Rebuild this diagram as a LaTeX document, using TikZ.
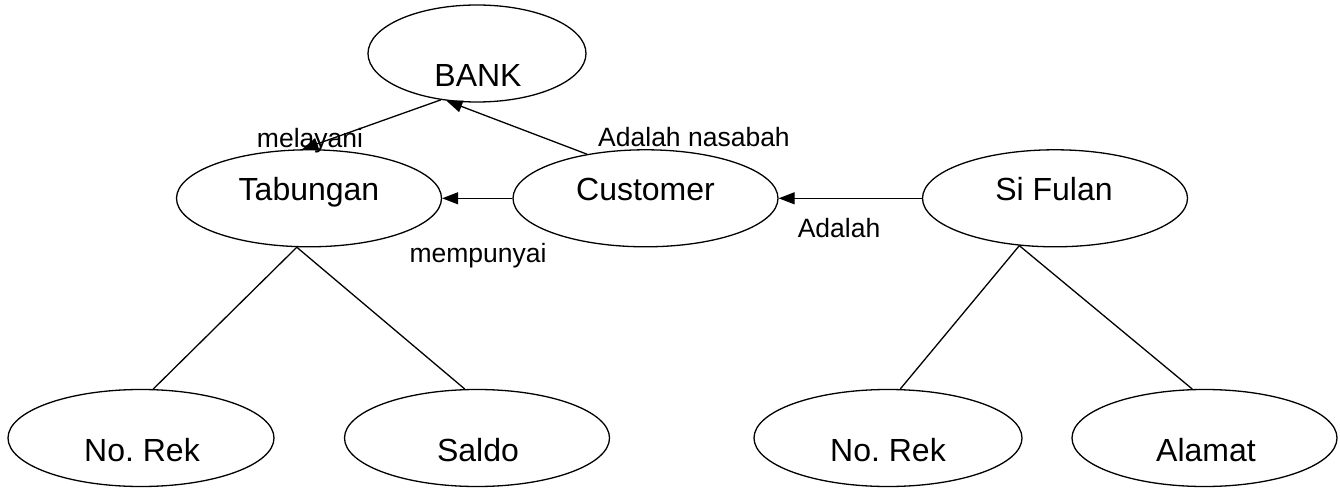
\documentclass[tikz,border=0pt]{standalone}
\usepackage{fontspec}
\setmainfont{Liberation Sans}
\usetikzlibrary{shapes.geometric,arrows.meta}
\frenchspacing
\begin{document}
\begin{tikzpicture}[x=1bp,y=-1bp,
  ent/.style={draw,ellipse,line width=1.3bp,inner sep=0pt,minimum width=265bp,minimum height=97bp},
  big/.style={anchor=base,inner sep=0pt,font=\fontsize{32bp}{38bp}\selectfont},
  small/.style={anchor=base,inner sep=0pt,font=\fontsize{26.5bp}{32bp}\selectfont},
  conn/.style={line width=1.3bp},
  arr/.style={conn,-{Triangle[length=16bp,width=12bp]}}]
\useasboundingbox (0,0) rectangle (1340,489);
% entities
\node[ent,minimum width=218bp] (bank) at (477,53.5) {};
\node[ent] (tab) at (309,198.3) {};
\node[ent] (cust) at (645.5,198.3) {};
\node[ent] (sf) at (1055,198.3) {};
\node[ent,minimum width=266bp] (nr1) at (141,438) {};
\node[ent] (saldo) at (477,438) {};
\node[ent,minimum width=268bp] (nr2) at (888,438) {};
\node[ent] (alamat) at (1204.5,438) {};
% entity texts
\node[big] (bankt) at (478,87) {BANK};
\node[big] (tabt) at (309,201) {Tabungan};
\node[big] (custt) at (645.5,201) {Customer};
\node[big] (sft) at (1054,201) {Si Fulan};
\node[big] (nr1t) at (142,461) {No.\ Rek};
\node[big] (saldot) at (478,461) {Saldo};
\node[big] (nr2t) at (888,461) {No.\ Rek};
\node[big] (alamatt) at (1206,461) {Alamat};
% connectors
\draw[arr] (cust.west) -- (tab.east);
\draw[arr] (sf.west) -- (cust.east);
\draw[arr] (cust.143) -- (bank.237);
\draw[arr] (bank.232) -- (tab.98);
\draw[conn] (tab.256) -- (nr1.76);
\draw[conn] (tab.256) -- (saldo.104);
\draw[conn] (sf.233) -- (nr2.76);
\draw[conn] (sf.233) -- (alamat.104);
% relation labels
\node[small] (lmel) at (310,148) {melayani};
\node[small] (lnas) at (694,147) {Adalah nasabah};
\node[small] (lmem) at (478,263) {mempunyai};
\node[small] (lada) at (839,238) {Adalah};
\end{tikzpicture}
\end{document}
